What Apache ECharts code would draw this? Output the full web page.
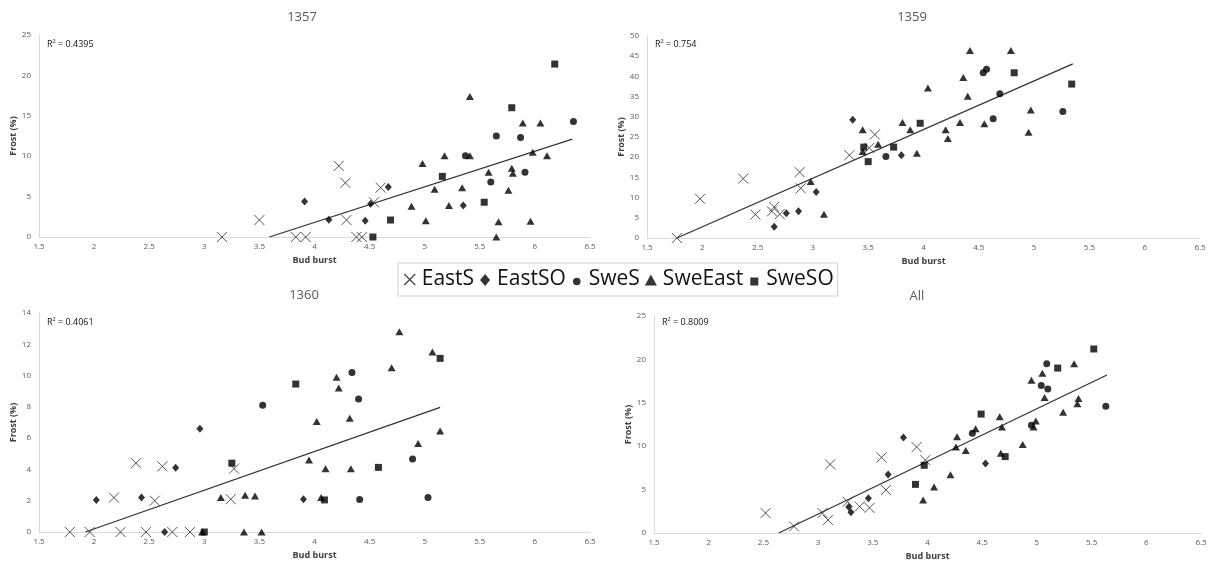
<!DOCTYPE html>
<html><head><meta charset="utf-8">
<script src="https://cdn.jsdelivr.net/npm/echarts@6/dist/echarts.min.js"></script>
<style>html,body{margin:0;padding:0;background:#fff}#c{width:1212px;height:566px}</style>
</head><body><div id="c"></div>
<script>
// ---------- data ----------
const panelTitles = ['1357', '1359', '1360', 'All'];
const rSquaredLabels = ['R\u00B2 = 0.4395', 'R\u00B2 = 0.754', 'R\u00B2 = 0.4061', 'R\u00B2 = 0.8009'];
const seriesNames = ['EastS', 'EastSO', 'SweS', 'SweEast', 'SweSO'];
const xMin = 1.5, xMax = 6.5, xStep = 0.5;
const yMaxes = [25, 50, 14, 25];
const ySteps = [5, 5, 2, 5];
const xAxisName = 'Bud burst';
const yAxisName = 'Frost (%)';

// Panel 1357
const eastS_1357 = [[3.16,0],[3.50,2.1],[3.83,0],[3.92,0],[4.22,8.8],[4.28,6.7],[4.29,2.1],[4.38,0],[4.43,0],[4.54,4.3],[4.60,6.1]];
const eastSO_1357 = [[3.91,4.4],[4.13,2.15],[4.46,2.0],[4.51,4.1],[4.67,6.2],[5.35,3.9]];
const sweS_1357 = [[5.37,10.05],[5.60,6.8],[5.65,12.5],[5.87,12.3],[5.91,8.0],[6.35,14.3]];
const sweEast_1357 = [[4.88,3.8],[4.98,9.1],[5.01,2.0],[5.09,5.9],[5.18,10.05],[5.22,3.9],[5.34,6.1],[5.41,17.4],[5.41,10.05],[5.58,8.0],[5.65,0],[5.67,1.9],[5.76,5.8],[5.79,8.5],[5.80,7.9],[5.89,14.1],[5.96,1.95],[5.98,10.5],[6.05,14.1],[6.11,10.05]];
const sweSO_1357 = [[4.53,0],[4.69,2.1],[5.16,7.5],[5.54,4.3],[5.79,16.0],[6.18,21.4]];
const trend_1357 = [[3.59,0],[6.34,12.1]];

// Panel 1359
const eastS_1359 = [[1.77,0],[1.98,9.7],[2.37,14.7],[2.48,5.8],[2.63,6.6],[2.65,7.7],[2.70,5.9],[2.88,16.3],[2.89,12.3],[3.33,20.5],[3.51,22.3],[3.56,25.6]];
const eastSO_1359 = [[2.65,2.8],[2.76,6.1],[2.87,6.6],[3.03,11.4],[3.36,29.3],[3.80,20.5]];
const sweS_1359 = [[3.66,20.2],[4.54,40.9],[4.57,41.8],[4.63,29.5],[4.69,35.7],[5.26,31.3]];
const sweEast_1359 = [[2.98,14.0],[3.10,5.9],[3.45,26.8],[3.45,21.4],[3.59,23.2],[3.81,28.6],[3.88,26.8],[3.94,21.0],[4.04,37.1],[4.20,26.8],[4.22,24.6],[4.33,28.6],[4.36,39.7],[4.40,35.1],[4.42,46.4],[4.55,28.3],[4.79,46.4],[4.95,26.2],[4.97,31.7]];
const sweSO_1359 = [[3.46,22.5],[3.50,18.9],[3.73,22.5],[3.97,28.4],[4.82,40.9],[5.34,38.1]];
const trend_1359 = [[1.77,0],[5.35,43.1]];

// Panel 1360
const eastS_1360 = [[1.78,0],[1.96,0],[2.18,2.2],[2.24,0],[2.38,4.4],[2.47,0],[2.55,2.0],[2.62,4.2],[2.71,0],[2.87,0],[3.24,2.1],[3.27,4.05]];
const eastSO_1360 = [[2.02,2.05],[2.43,2.2],[2.64,0],[2.74,4.1],[2.96,6.6],[3.90,2.1]];
const sweS_1360 = [[3.53,8.1],[4.34,10.2],[4.40,8.5],[4.41,2.07],[4.89,4.67],[5.03,2.2]];
const sweEast_1360 = [[2.98,0],[3.15,2.2],[3.36,0],[3.37,2.35],[3.46,2.3],[3.52,0],[3.95,4.6],[4.02,7.07],[4.06,2.2],[4.10,4.05],[4.20,9.9],[4.22,9.2],[4.32,7.27],[4.33,4.05],[4.70,10.5],[4.77,12.8],[4.94,5.65],[5.07,11.5],[5.14,6.45]];
const sweSO_1360 = [[3.00,0],[3.25,4.4],[3.83,9.46],[4.09,2.05],[4.58,4.13],[5.14,11.1]];
const trend_1360 = [[1.92,0],[5.14,7.97]];

// Panel All
const eastS_all = [[2.52,2.3],[2.78,0.76],[3.04,2.3],[3.09,1.5],[3.11,7.9],[3.27,3.6],[3.38,3.05],[3.47,2.9],[3.58,8.7],[3.62,4.96],[3.90,9.9],[3.98,8.4]];
const eastSO_all = [[3.28,3.0],[3.30,2.4],[3.46,4.0],[3.64,6.75],[3.78,11.0],[4.53,8.0]];
const sweS_all = [[4.41,11.5],[4.95,12.4],[5.04,17.0],[5.09,19.5],[5.10,16.6],[5.63,14.6]];
const sweEast_all = [[3.96,3.8],[4.06,5.3],[4.21,6.7],[4.26,9.9],[4.27,11.1],[4.35,9.5],[4.44,12.0],[4.66,13.4],[4.67,9.2],[4.68,12.2],[4.87,10.2],[4.95,17.6],[4.97,12.2],[4.99,12.9],[5.05,18.4],[5.07,15.6],[5.24,13.9],[5.34,19.5],[5.37,14.9],[5.38,15.5]];
const sweSO_all = [[3.89,5.6],[3.97,7.8],[4.49,13.7],[4.71,8.8],[5.19,19.0],[5.52,21.2]];
const trend_all = [[2.64,0],[5.64,18.2]];

const panelData = [
  [eastS_1357, eastSO_1357, sweS_1357, sweEast_1357, sweSO_1357],
  [eastS_1359, eastSO_1359, sweS_1359, sweEast_1359, sweSO_1359],
  [eastS_1360, eastSO_1360, sweS_1360, sweEast_1360, sweSO_1360],
  [eastS_all, eastSO_all, sweS_all, sweEast_all, sweSO_all]
];
const trendData = [trend_1357, trend_1359, trend_1360, trend_all];

// ---------- layout / style ----------
const grids = [
  {left: 39, top: 35, width: 551, height: 202},
  {left: 647, top: 36, width: 553, height: 202},
  {left: 39, top: 313, width: 551, height: 219},
  {left: 654, top: 316, width: 547, height: 217}
];
const titlePos = [[302, 11], [912, 11], [304, 289], [917, 290]];
const r2Pos = [[47, 40], [655, 40], [47, 318], [662, 318]];

const FONT = 'Open Sans';
const XPATH = 'path://M0,0L10,10M10,0L0,10';
const markerStyles = [
  {symbol: XPATH, symbolSize: 10, itemStyle: {color: 'transparent', borderColor: '#2a2a2a', borderWidth: 1}},
  {symbol: 'diamond', symbolSize: [7, 8], itemStyle: {color: '#000'}},
  {symbol: 'circle', symbolSize: 7, itemStyle: {color: '#000'}},
  {symbol: 'triangle', symbolSize: [8, 7], itemStyle: {color: '#000'}},
  {symbol: 'rect', symbolSize: 7, itemStyle: {color: '#000'}}
];
const legendIcons = [
  'path://M0,0M14,14M1.5,1.5L12.5,12.5M12.5,1.5L1.5,12.5',
  'path://M0,0M14,14M7,1.5L12,7.5L7,13.5L2,7.5Z',
  'path://M0,0M14,14M3.2,9A3.8,3.8,0,1,1,10.8,9A3.8,3.8,0,1,1,3.2,9Z',
  'path://M0,0M14,14M7,2L13,13L1,13Z',
  'path://M0,0M14,14M3,5H11V13H3Z'
];

const xAxes = [], yAxes = [], series = [], titles = [], graphics = [];
grids.forEach((g, i) => {
  xAxes.push({
    gridIndex: i, type: 'value', min: xMin, max: xMax, interval: xStep,
    name: xAxisName, nameLocation: 'middle', nameGap: 19,
    nameTextStyle: {fontFamily: FONT, fontSize: 9, fontWeight: 'bold', color: '#404040'},
    axisLine: {show: true, lineStyle: {color: '#d9d9d9', width: 1}},
    axisTick: {show: false},
    splitLine: {show: false},
    axisLabel: {fontFamily: FONT, fontSize: 8, color: '#595959', margin: 6}
  });
  yAxes.push({
    gridIndex: i, type: 'value', min: 0, max: yMaxes[i], interval: ySteps[i],
    name: yAxisName, nameLocation: 'middle', nameGap: 20,
    nameTextStyle: {fontFamily: FONT, fontSize: 9, fontWeight: 'bold', color: '#404040'},
    axisLine: {show: true, lineStyle: {color: '#d9d9d9', width: 1}},
    axisTick: {show: false},
    splitLine: {show: false},
    axisLabel: {fontFamily: FONT, fontSize: 8, color: '#595959', margin: 8}
  });
  titles.push({
    text: panelTitles[i], left: titlePos[i][0], top: titlePos[i][1], textAlign: 'center', padding: 0,
    textStyle: {fontFamily: FONT, fontSize: 13, fontWeight: 'normal', color: '#595959'}
  });
  graphics.push({
    type: 'text', left: r2Pos[i][0], top: r2Pos[i][1],
    style: {text: rSquaredLabels[i], font: '9px "' + FONT + '"', fill: '#111'}
  });
  seriesNames.forEach((name, k) => {
    series.push(Object.assign({
      name: name, type: 'scatter', xAxisIndex: i, yAxisIndex: i,
      data: panelData[i][k], z: 3
    }, markerStyles[k]));
  });
  series.push({
    name: 'trend' + i, type: 'line', xAxisIndex: i, yAxisIndex: i,
    data: trendData[i], symbol: 'none', z: 2,
    lineStyle: {color: '#333', width: 1.3}
  });
});

const legendData = seriesNames.map((n, k) => ({
  name: n, icon: legendIcons[k],
  itemStyle: k === 0 ? {color: 'transparent', borderColor: '#222', borderWidth: 1.5}
                     : {color: '#000', borderWidth: 0}
}));

const chart = echarts.init(document.getElementById('c'));
chart.setOption({
  animation: false,
  backgroundColor: '#fff',
  title: titles,
  grid: grids,
  xAxis: xAxes,
  yAxis: yAxes,
  legend: {
    data: legendData, left: 398, top: 263,
    itemWidth: 14, itemHeight: 14, itemGap: 4, itemTextGap: 3,
    padding: [6, 4, 6, 4],
    borderColor: '#d0d0d0', borderWidth: 1, backgroundColor: '#fff',
    textStyle: {fontFamily: FONT, fontSize: 21, color: '#111'}
  },
  graphic: graphics,
  series: series
});
</script>
</body></html>
